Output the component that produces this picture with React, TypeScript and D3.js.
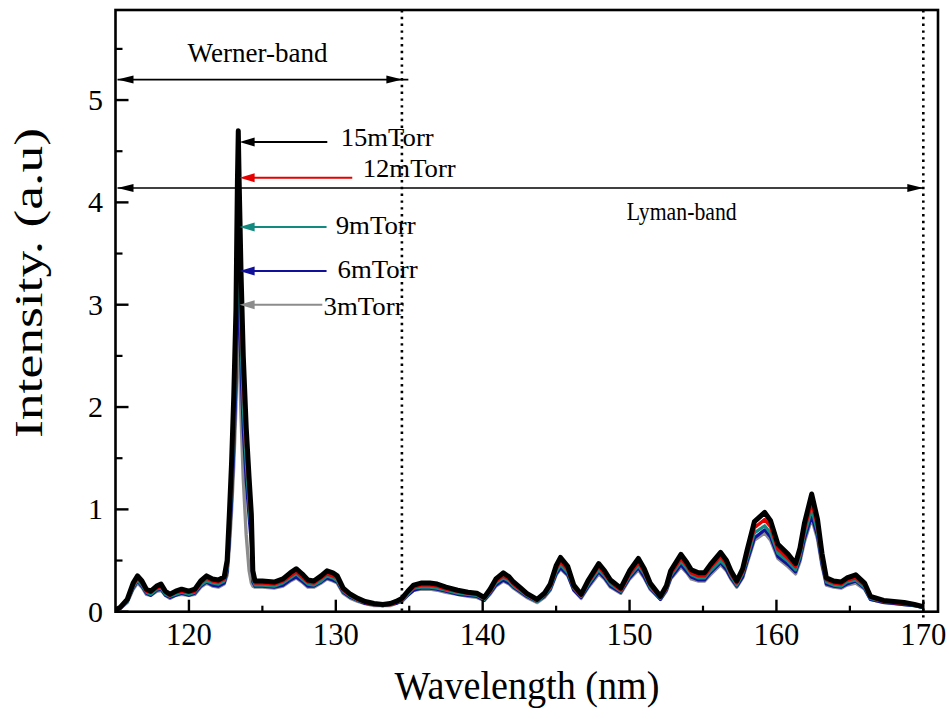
import React from "react";
import * as d3 from "d3";

// ---------- data ----------
const wavelengths = [
  115.0, 115.3, 115.8, 116.2, 116.5, 116.8, 117.1, 117.4, 117.8, 118.1, 118.4, 118.7, 119.1, 119.5, 120.0, 120.4, 120.8, 121.2, 121.6, 122.0, 122.4,
  122.6, 122.75, 122.9, 123.05, 123.2, 123.3, 123.36, 123.42, 123.55, 123.7, 123.9, 124.1, 124.25, 124.35, 124.5,
  125.0, 125.8, 126.4, 126.9, 127.3, 127.7, 128.1, 128.5, 129.0, 129.4, 129.8, 130.1, 130.5, 131.0, 131.5, 132.0, 132.6, 133.2, 133.7, 134.1, 134.5,
  134.9, 135.3, 135.8, 136.4, 136.9, 137.5, 138.3, 139.0, 139.6, 140.1, 140.5, 140.9, 141.4, 141.8, 142.1, 142.6, 143.0, 143.7,
  144.2, 144.6, 145.0, 145.3, 145.8, 146.2, 146.7, 147.2, 147.9, 148.3, 148.7, 149.4, 150.0, 150.6, 151.0, 151.4, 152.1,
  152.5, 152.8, 153.5, 153.9, 154.2, 154.7, 155.1, 155.5, 156.2, 156.6, 156.9, 157.3, 157.7, 158.0, 158.5, 159.2, 159.6,
  160.1, 160.8, 161.3, 161.6, 161.9, 162.4, 162.8, 163.1, 163.4, 163.9, 164.4, 164.8, 165.4, 166.0, 166.4, 167.3, 168.0, 168.7, 169.4, 170.0,
];

const i15mTorr = [
  0.02, 0.04, 0.12, 0.28, 0.35, 0.30, 0.22, 0.20, 0.25, 0.27, 0.20, 0.17, 0.20, 0.22, 0.20, 0.22, 0.30, 0.35, 0.32, 0.31, 0.34,
  0.50, 0.95, 1.45, 2.10, 2.95, 4.20, 4.70, 4.20, 3.30, 2.50, 1.80, 1.30, 0.95, 0.40, 0.30,
  0.30, 0.29, 0.32, 0.38, 0.42, 0.37, 0.31, 0.30, 0.35, 0.40, 0.38, 0.35, 0.23, 0.17, 0.13, 0.10, 0.08, 0.07, 0.08, 0.10, 0.13,
  0.20, 0.26, 0.28, 0.28, 0.27, 0.24, 0.21, 0.19, 0.18, 0.14, 0.22, 0.32, 0.38, 0.34, 0.29, 0.23, 0.18, 0.12,
  0.18, 0.27, 0.45, 0.53, 0.44, 0.26, 0.17, 0.31, 0.47, 0.40, 0.31, 0.23, 0.40, 0.52, 0.42, 0.28, 0.15,
  0.25, 0.40, 0.56, 0.48, 0.41, 0.38, 0.38, 0.46, 0.58, 0.50, 0.40, 0.30, 0.42, 0.60, 0.88, 0.97, 0.89,
  0.66, 0.56, 0.47, 0.62, 0.86, 1.15, 0.90, 0.57, 0.33, 0.30, 0.29, 0.33, 0.36, 0.28, 0.15, 0.11, 0.10, 0.09, 0.07, 0.05,
];

const i12mTorr = [
  0.02, 0.04, 0.11, 0.26, 0.33, 0.28, 0.20, 0.19, 0.23, 0.25, 0.19, 0.16, 0.19, 0.20, 0.19, 0.20, 0.28, 0.33, 0.30, 0.29, 0.32,
  0.46, 0.88, 1.34, 1.95, 2.72, 3.85, 4.28, 3.85, 3.00, 2.28, 1.65, 1.20, 0.86, 0.36, 0.28,
  0.28, 0.27, 0.30, 0.35, 0.39, 0.34, 0.29, 0.28, 0.33, 0.37, 0.35, 0.33, 0.21, 0.16, 0.12, 0.09, 0.07, 0.07, 0.07, 0.09, 0.12,
  0.19, 0.24, 0.26, 0.26, 0.25, 0.22, 0.20, 0.18, 0.17, 0.13, 0.20, 0.30, 0.35, 0.32, 0.27, 0.21, 0.17, 0.11,
  0.17, 0.25, 0.42, 0.49, 0.41, 0.24, 0.16, 0.29, 0.44, 0.37, 0.29, 0.21, 0.37, 0.48, 0.39, 0.26, 0.14,
  0.23, 0.37, 0.52, 0.45, 0.38, 0.35, 0.35, 0.43, 0.54, 0.47, 0.37, 0.28, 0.39, 0.56, 0.82, 0.90, 0.83,
  0.61, 0.52, 0.44, 0.58, 0.80, 1.07, 0.84, 0.53, 0.31, 0.28, 0.27, 0.31, 0.33, 0.26, 0.14, 0.10, 0.09, 0.08, 0.07, 0.05,
];

const i9mTorr = [
  0.02, 0.04, 0.10, 0.24, 0.31, 0.26, 0.19, 0.17, 0.22, 0.23, 0.17, 0.15, 0.17, 0.19, 0.17, 0.19, 0.26, 0.30, 0.28, 0.27, 0.30,
  0.42, 0.78, 1.20, 1.74, 2.45, 3.45, 3.80, 3.40, 2.65, 2.00, 1.45, 1.05, 0.76, 0.32, 0.26,
  0.26, 0.25, 0.28, 0.33, 0.37, 0.32, 0.27, 0.26, 0.30, 0.35, 0.33, 0.30, 0.20, 0.15, 0.11, 0.09, 0.07, 0.06, 0.07, 0.09, 0.11,
  0.17, 0.23, 0.24, 0.24, 0.23, 0.21, 0.18, 0.17, 0.16, 0.12, 0.19, 0.28, 0.33, 0.30, 0.25, 0.20, 0.16, 0.10,
  0.16, 0.23, 0.39, 0.46, 0.38, 0.23, 0.15, 0.27, 0.41, 0.35, 0.27, 0.20, 0.35, 0.45, 0.37, 0.24, 0.13,
  0.22, 0.35, 0.49, 0.42, 0.36, 0.33, 0.33, 0.40, 0.50, 0.44, 0.35, 0.26, 0.37, 0.52, 0.77, 0.84, 0.77,
  0.57, 0.49, 0.41, 0.54, 0.75, 1.00, 0.78, 0.50, 0.29, 0.26, 0.25, 0.29, 0.31, 0.24, 0.13, 0.10, 0.09, 0.08, 0.06, 0.04,
];

const i6mTorr = [
  0.02, 0.03, 0.10, 0.23, 0.30, 0.25, 0.18, 0.16, 0.21, 0.22, 0.16, 0.14, 0.16, 0.18, 0.16, 0.18, 0.25, 0.29, 0.26, 0.25, 0.28,
  0.39, 0.70, 1.08, 1.58, 2.20, 3.05, 3.40, 3.00, 2.35, 1.78, 1.28, 0.92, 0.66, 0.29, 0.25,
  0.25, 0.24, 0.26, 0.31, 0.34, 0.30, 0.25, 0.25, 0.29, 0.33, 0.31, 0.29, 0.19, 0.14, 0.11, 0.08, 0.07, 0.06, 0.07, 0.08, 0.11,
  0.16, 0.21, 0.23, 0.23, 0.22, 0.20, 0.17, 0.16, 0.15, 0.11, 0.18, 0.26, 0.31, 0.28, 0.24, 0.19, 0.15, 0.10,
  0.15, 0.22, 0.37, 0.43, 0.36, 0.21, 0.14, 0.25, 0.39, 0.33, 0.25, 0.19, 0.33, 0.43, 0.34, 0.23, 0.12,
  0.21, 0.33, 0.46, 0.39, 0.34, 0.31, 0.31, 0.38, 0.48, 0.41, 0.33, 0.25, 0.34, 0.49, 0.72, 0.80, 0.73,
  0.54, 0.46, 0.39, 0.51, 0.71, 0.94, 0.74, 0.47, 0.27, 0.25, 0.24, 0.27, 0.30, 0.23, 0.12, 0.09, 0.08, 0.07, 0.06, 0.04,
];

const i3mTorr = [
  0.02, 0.03, 0.09, 0.22, 0.28, 0.24, 0.17, 0.16, 0.20, 0.21, 0.16, 0.13, 0.16, 0.17, 0.16, 0.17, 0.24, 0.28, 0.25, 0.24, 0.27,
  0.36, 0.62, 0.98, 1.42, 2.00, 2.70, 3.00, 2.55, 1.90, 1.30, 0.75, 0.40, 0.28, 0.25, 0.24,
  0.24, 0.23, 0.25, 0.30, 0.33, 0.29, 0.24, 0.24, 0.28, 0.32, 0.30, 0.28, 0.18, 0.13, 0.10, 0.08, 0.06, 0.06, 0.06, 0.08, 0.10,
  0.16, 0.21, 0.22, 0.22, 0.21, 0.19, 0.17, 0.15, 0.14, 0.11, 0.17, 0.25, 0.30, 0.27, 0.23, 0.18, 0.14, 0.09,
  0.14, 0.21, 0.36, 0.42, 0.35, 0.21, 0.13, 0.24, 0.37, 0.32, 0.24, 0.18, 0.32, 0.41, 0.33, 0.22, 0.12,
  0.20, 0.32, 0.44, 0.38, 0.32, 0.30, 0.30, 0.36, 0.46, 0.40, 0.32, 0.24, 0.33, 0.47, 0.70, 0.77, 0.70,
  0.52, 0.44, 0.37, 0.49, 0.68, 0.91, 0.71, 0.45, 0.26, 0.24, 0.23, 0.26, 0.28, 0.22, 0.12, 0.09, 0.08, 0.07, 0.06, 0.04,
];

const seriesNames = ["3mTorr", "6mTorr", "9mTorr", "12mTorr", "15mTorr"];
const seriesValues = [i3mTorr, i6mTorr, i9mTorr, i12mTorr, i15mTorr];
const seriesColors = ["#8c8c8c", "#10109a", "#138a80", "#e60000", "#000000"];
const seriesWidths = [3.4, 3.2, 3.2, 3.4, 5];

// annotation arrows (pressure labels): y value, tail x, label x
const arrowY = [3.0, 3.33, 3.76, 4.24, 4.59];
const arrowTailX = [129.08, 129.37, 129.37, 131.12, 129.42];
const labelX = [129.17, 130.12, 129.99, 131.83, 130.33];
const labelDy = [10, 7, 7, -1, 4];
const arrowTipX = 123.45;

const xTicks = [120, 130, 140, 150, 160, 170];
const xMinor = [125, 135, 145, 155, 165];
const yTicks = [0, 1, 2, 3, 4, 5];
const yMinor = [0.5, 1.5, 2.5, 3.5, 4.5, 5.5];

const wernerLabel = "Werner-band";
const lymanLabel = "Lyman-band";
const wernerRange = [115, 134.53];
const wernerY = 5.2;
const lymanRange = [115, 170];
const lymanY = 4.14;
const bandBoundaries = [134.5, 170];

const W = 949;
const H = 719;
const left = 115.5;
const right = 938;
const top = 10;
const bottom = 611.7;
const FONT = "'Liberation Serif', 'Times New Roman', serif";

export default function App() {
  const x = d3.scaleLinear().domain([115, 171]).range([left, right]);
  const y = d3.scaleLinear().domain([0, 5.88]).range([bottom, top]);

  const line = (vals: number[]) =>
    d3
      .line<number>()
      .x((_, i) => x(wavelengths[i]))
      .y((d) => y(d))(vals) as string;

  const headPath = (tipX: number, tipY: number, dir: number, len: number, half: number) =>
    `M${tipX},${tipY} L${tipX + dir * len},${tipY - half} L${tipX + dir * len},${tipY + half} Z`;

  return (
    <svg
      width={W}
      height={H}
      style={{ position: "absolute", left: 0, top: 0, background: "#fff" }}
      fontFamily={FONT}
    >
      <rect x={0} y={0} width={W} height={H} fill="#fff" />
      <defs>
        <clipPath id="plotClip">
          <rect x={left} y={top} width={right - left} height={bottom - top} />
        </clipPath>
      </defs>

      {/* spectra */}
      <g clipPath="url(#plotClip)">
        {seriesValues.map((vals, k) => (
          <path
            key={seriesNames[k]}
            d={line(vals)}
            fill="none"
            stroke={seriesColors[k]}
            strokeWidth={seriesWidths[k]}
            strokeLinejoin="round"
          />
        ))}
      </g>

      {/* band boundaries */}
      {bandBoundaries.map((b) => (
        <line
          key={b}
          x1={x(b)}
          x2={x(b)}
          y1={top}
          y2={b === 170 ? bottom + 6 : bottom}
          stroke="#000"
          strokeWidth={2.6}
          strokeDasharray="2.4,4.4"
        />
      ))}

      {/* Werner arrow */}
      <line x1={x(wernerRange[0]) + 2} x2={x(wernerRange[1]) + 6} y1={y(wernerY)} y2={y(wernerY)} stroke="#000" strokeWidth={1.6} />
      <path d={headPath(x(wernerRange[0]) + 2, y(wernerY), 1, 16, 4)} fill="#000" />
      <path d={headPath(x(wernerRange[1]), y(wernerY), -1, 16, 4)} fill="#000" />
      <text
        x={x(124.67)}
        y={62}
        fontSize={27}
        textAnchor="middle"
        textLength={140}
        lengthAdjust="spacingAndGlyphs"
      >
        {wernerLabel}
      </text>

      {/* Lyman arrow */}
      <line x1={x(lymanRange[0]) + 2} x2={x(lymanRange[1])} y1={y(lymanY)} y2={y(lymanY)} stroke="#000" strokeWidth={1.6} />
      <path d={headPath(x(lymanRange[0]) + 2, y(lymanY), 1, 16, 4)} fill="#000" />
      <path d={headPath(x(lymanRange[1]), y(lymanY), -1, 16, 4)} fill="#000" />
      <text
        x={x(153.55)}
        y={220}
        fontSize={26}
        textAnchor="middle"
        textLength={110}
        lengthAdjust="spacingAndGlyphs"
      >
        {lymanLabel}
      </text>

      {/* pressure arrows */}
      {seriesNames.map((name, k) => {
        const ty = y(arrowY[k]);
        const tipx = x(arrowTipX);
        const len = name.length;
        return (
          <g key={"ann" + name}>
            <line x1={tipx + 10} x2={x(arrowTailX[k])} y1={ty} y2={ty} stroke={seriesColors[k]} strokeWidth={2} />
            <path d={headPath(tipx, ty, 1, 15, 4.5)} fill={seriesColors[k]} />
            <text
              x={x(labelX[k])}
              y={ty + labelDy[k]}
              fontSize={26}
              textLength={len === 7 ? 93 : 80}
              lengthAdjust="spacingAndGlyphs"
            >
              {name}
            </text>
          </g>
        );
      })}

      {/* frame */}
      <rect x={left} y={top} width={right - left} height={bottom - top} fill="none" stroke="#000" strokeWidth={2.6} />

      {/* x ticks */}
      {xTicks.map((t) => (
        <g key={"xt" + t}>
          <line x1={x(t)} x2={x(t)} y1={bottom} y2={bottom - 12} stroke="#000" strokeWidth={2.4} />
          <text x={x(t)} y={645} fontSize={31} textAnchor="middle" textLength={46} lengthAdjust="spacingAndGlyphs">
            {t}
          </text>
        </g>
      ))}
      {xMinor.map((t) => (
        <line key={"xm" + t} x1={x(t)} x2={x(t)} y1={bottom} y2={bottom - 6} stroke="#000" strokeWidth={2.2} />
      ))}

      {/* y ticks */}
      {yTicks.map((t) => (
        <g key={"yt" + t}>
          <line x1={left} x2={left + 13} y1={y(t)} y2={y(t)} stroke="#000" strokeWidth={2.4} />
          <text x={103} y={y(t) + 10} fontSize={30} textAnchor="end">
            {t}
          </text>
        </g>
      ))}
      {yMinor.map((t) => (
        <line key={"ym" + t} x1={left} x2={left + 7} y1={y(t)} y2={y(t)} stroke="#000" strokeWidth={2.2} />
      ))}

      {/* axis titles */}
      <text x={527} y={699} fontSize={39} textAnchor="middle" textLength={265} lengthAdjust="spacingAndGlyphs">
        Wavelength (nm)
      </text>
      <text
        transform="translate(42,283) rotate(-90)"
        fontSize={39}
        textAnchor="middle"
        textLength={310}
        lengthAdjust="spacingAndGlyphs"
      >
        Intensity. (a.u)
      </text>
    </svg>
  );
}
